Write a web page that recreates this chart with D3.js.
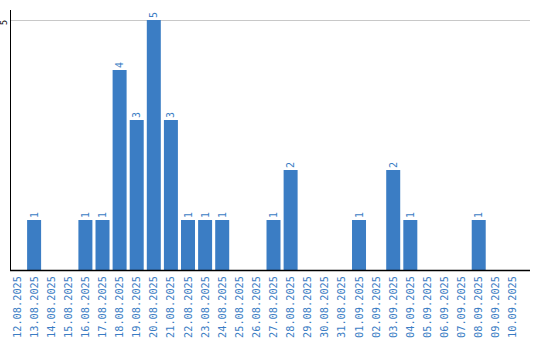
<!DOCTYPE html>
<html><head><meta charset="utf-8">
<script src="https://cdn.jsdelivr.net/npm/d3@7"></script>
<style>html,body{margin:0;padding:0;background:#fff;}svg{display:block;}</style>
</head><body>
<script>
const categories = ["12.08.2025","13.08.2025","14.08.2025","15.08.2025","16.08.2025","17.08.2025","18.08.2025","19.08.2025","20.08.2025","21.08.2025","22.08.2025","23.08.2025","24.08.2025","25.08.2025","26.08.2025","27.08.2025","28.08.2025","29.08.2025","30.08.2025","31.08.2025","01.09.2025","02.09.2025","03.09.2025","04.09.2025","05.09.2025","06.09.2025","07.09.2025","08.09.2025","09.09.2025","10.09.2025"];
const values = [0,1,0,0,1,1,4,3,5,3,1,1,1,0,0,1,2,0,0,0,1,0,2,1,0,0,0,1,0,0];
const yTicks = [5];

const W = 540, H = 340;
const left = 10, base = 270, plotRight = 530;
const blue = "#3b7dc4";
const font = "'DejaVu Sans Mono', monospace";

const svg = d3.select("body").append("svg").attr("width", W).attr("height", H);

// band step 17, bar width 14
const x = d3.scaleBand().domain(categories).range([left, left + 17 * categories.length]).paddingInner(3/17).paddingOuter(0).align(0);
const y = d3.scaleLinear().domain([0, 5]).range([base, 20]);
const bw = 14;

// gridlines
svg.selectAll(".grid").data(yTicks).enter().append("line")
  .attr("x1", left).attr("x2", plotRight)
  .attr("y1", d => Math.round(y(d)) + 0.5).attr("y2", d => Math.round(y(d)) + 0.5)
  .attr("stroke", "#c8c8c8").attr("stroke-width", 1);

// y tick labels
svg.selectAll(".ylab").data(yTicks).enter().append("text")
  .attr("transform", d => `translate(7,${y(d) + 2.5}) rotate(-90)`)
  .attr("text-anchor", "middle")
  .attr("font-family", font).attr("font-size", 8.5).attr("fill", "#000")
  .text(d => d);

// bars
svg.selectAll(".bar").data(categories).enter().append("rect")
  .attr("x", d => x(d))
  .attr("width", bw)
  .attr("y", (d, i) => y(values[i]))
  .attr("height", (d, i) => base - y(values[i]))
  .attr("fill", blue);

// value labels
const nz = categories.map((c, i) => ({c, v: values[i]})).filter(d => d.v > 0);
svg.selectAll(".vlab").data(nz).enter().append("text")
  .attr("transform", d => `translate(${x(d.c) + bw / 2 + 3.5},${y(d.v) - 2}) rotate(-90)`)
  .attr("text-anchor", "start")
  .attr("font-family", font).attr("font-size", 10).attr("fill", blue)
  .text(d => d.v);

// axes lines
svg.append("line").attr("x1", left + 0.5).attr("x2", left + 0.5).attr("y1", 10).attr("y2", base + 1)
  .attr("stroke", "#000").attr("stroke-width", 1);
svg.append("line").attr("x1", left).attr("x2", plotRight).attr("y1", base + 0.5).attr("y2", base + 0.5)
  .attr("stroke", "#000").attr("stroke-width", 1.5);

// x labels
svg.selectAll(".xlab").data(categories).enter().append("text")
  .attr("transform", d => `translate(${x(d) + bw / 2 + 3.5},${base + 6}) rotate(-90)`)
  .attr("text-anchor", "end")
  .attr("font-family", font).attr("font-size", 10.3).attr("fill", blue)
  .text(d => d);
</script>
</body></html>
